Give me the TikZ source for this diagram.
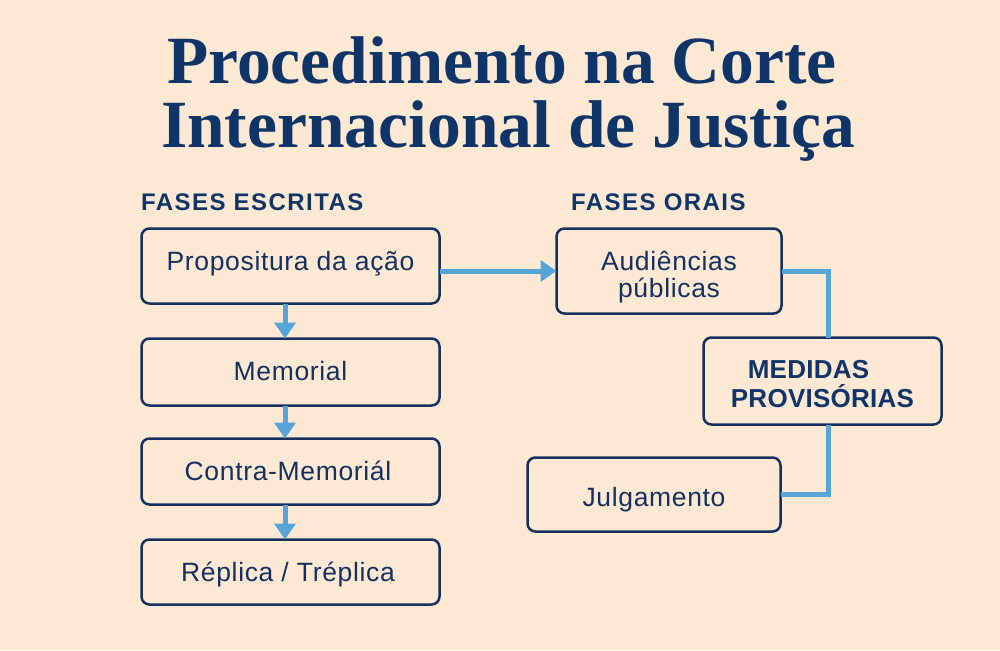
\documentclass[tikz,border=0pt]{standalone}
\usepackage{fontspec}
\setmainfont[LetterSpace=2.5]{Liberation Sans}
\newfontfamily\titlefont{Liberation Serif}
\newfontfamily\headfont[LetterSpace=6]{Liberation Sans}
\newfontfamily\medidafont[LetterSpace=1]{Liberation Sans}
\usepackage{tikz}
\usetikzlibrary{positioning,arrows.meta,calc}

\definecolor{paper}{HTML}{FDE8D3}
\definecolor{navy}{HTML}{14305F}
\definecolor{titlenavy}{HTML}{0F3568}
\definecolor{flow}{HTML}{57A5D8}

\begin{document}
\begin{tikzpicture}[x=1pt,y=-1pt,
    fase/.style={rectangle, draw=navy, line width=2.5pt, rounded corners=8pt, fill=paper, outer sep=0pt,
        text centered, text=navy, font=\fontsize{26.5}{27}\selectfont, inner sep=0pt},
    medida/.style={fase, align=center, text=titlenavy, font=\fontsize{26}{29}\selectfont\medidafont\bfseries},
    heading/.style={anchor=base west, text=titlenavy, inner sep=0pt, font=\fontsize{24}{26}\selectfont\headfont\bfseries},
    titleline/.style={anchor=base, text=titlenavy, inner sep=0pt, font=\fontsize{67.5}{70}\selectfont\titlefont\bfseries},
    seta/.style={draw=flow, line width=5pt, -{Triangle[length=16pt,width=21pt]}},
    liga/.style={draw=flow, line width=5pt}
]
\fill[paper] (0,0) rectangle (1000,650);
\useasboundingbox (0,0) rectangle (1000,650);

\node (Title1) [titleline] at (502,84) {Procedimento na Corte};
\node (Title2) [titleline] at (508,147) {Internacional de Justiça};

\node (HeadWritten) [heading] at (141,210) {FASES ESCRITAS};
\node (HeadOral) [heading] at (571,210) {FASES ORAIS};

% left column
\node (Propositura) [fase, minimum width=298pt, minimum height=75pt, text height=18pt, text depth=10pt, anchor=north west] at (141.5,228.5) {Propositura da ação};
\node (Memorial) [fase, minimum width=298pt, minimum height=67pt, text height=26pt, text depth=10pt, below=35pt of Propositura] {Memorial};
\node (Contra) [fase, minimum width=298pt, minimum height=66pt, text height=27pt, text depth=10pt, below=33pt of Memorial] {Contra-Memoriál\hspace*{5pt}};
\node (Replica) [fase, minimum width=298pt, minimum height=65pt, text height=28pt, text depth=10pt, below=35pt of Contra] {Réplica / Tréplica\hspace*{5pt}};

% right column
\node (Audiencias) [fase, align=center, minimum width=225pt, minimum height=85pt, text height=62pt, text depth=10pt, anchor=north west] at (556.5,228.5) {Audiências\\públicas};
\node (Medidas) [medida, minimum width=238pt, minimum height=87pt, text height=62pt, text depth=10pt, anchor=north west] at (703.5,337.5) {MEDIDAS\hspace*{28pt}\\PROVISÓRIAS};
\node (Julgamento) [fase, minimum width=253pt, minimum height=74pt, text height=33pt, text depth=10pt, anchor=north west] at (527.5,457.5) {Julgamento};

\coordinate (Drop) at (285,0);

\draw [seta] (Propositura.south -| Drop) -- (Memorial.north -| Drop);
\draw [seta] (Memorial.south -| Drop) -- (Contra.north -| Drop);
\draw [seta] (Contra.south -| Drop) -- (Replica.north -| Drop);
\draw [seta] (Propositura.east |- Audiencias.west) -- (Audiencias.west);

\coordinate (Rail) at (828,0);
\draw [liga] (Audiencias.east) -- (Audiencias.east -| Rail) -- (Medidas.north -| Rail);
\draw [liga] (Julgamento.east) -- (Julgamento.east -| Rail) -- (Medidas.south -| Rail);

\end{tikzpicture}
\end{document}
